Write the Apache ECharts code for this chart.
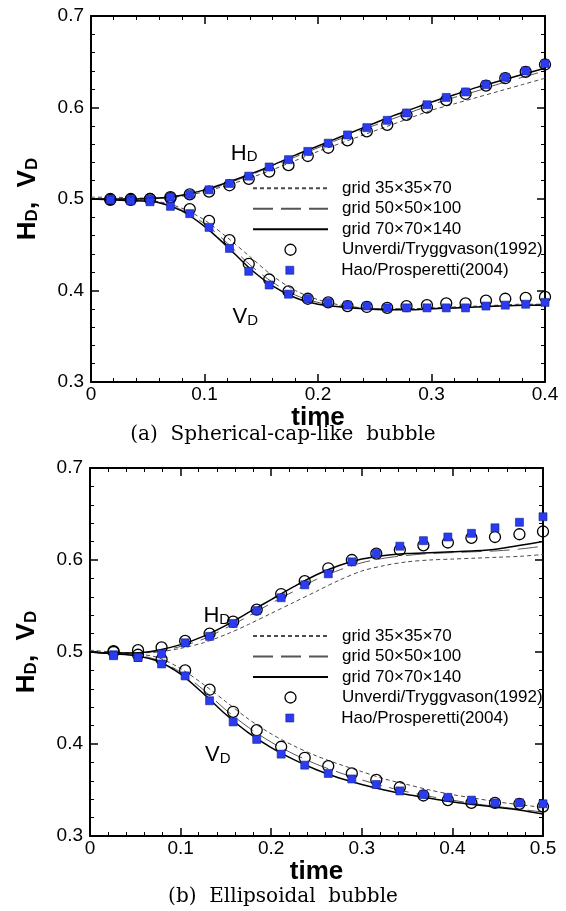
<!DOCTYPE html>
<html><head><meta charset="utf-8">
<script src="https://cdn.jsdelivr.net/npm/echarts@6/dist/echarts.min.js"></script>
<style>html,body{margin:0;padding:0;background:#fff}#c{width:566px;height:911px}</style>
</head><body><div id="c"></div>
<script>
// ---------- Panel (a): Spherical-cap-like bubble ----------
const markTimeA = [0.017,0.035,0.052,0.070,0.087,0.104,0.122,0.139,0.157,0.174,0.191,0.209,0.226,0.243,0.261,0.278,0.296,0.313,0.330,0.348,0.365,0.383,0.400];
const hUnverdiA = [0.500,0.500,0.500,0.502,0.505,0.508,0.515,0.522,0.530,0.537,0.547,0.556,0.564,0.574,0.581,0.592,0.600,0.608,0.615,0.624,0.632,0.639,0.647];
const hHaoA     = [0.500,0.500,0.500,0.502,0.505,0.510,0.517,0.525,0.535,0.543,0.552,0.561,0.570,0.578,0.586,0.594,0.603,0.611,0.617,0.625,0.633,0.640,0.648];
const vUnverdiA = [0.499,0.499,0.500,0.501,0.489,0.476,0.455,0.429,0.412,0.399,0.391,0.387,0.383,0.382,0.381,0.383,0.384,0.386,0.386,0.389,0.391,0.392,0.393];
const vHaoA     = [0.499,0.498,0.497,0.492,0.484,0.469,0.446,0.421,0.406,0.396,0.391,0.387,0.384,0.383,0.381,0.381,0.381,0.381,0.381,0.383,0.384,0.385,0.387];

const lineTimeA = [0,0.02,0.04,0.06,0.08,0.10,0.12,0.14,0.16,0.18,0.20,0.22,0.24,0.26,0.28,0.30,0.32,0.34,0.36,0.38,0.40];
const hCoarseA = [0.502,0.502,0.501,0.501,0.503,0.508,0.515,0.523,0.532,0.542,0.552,0.561,0.570,0.579,0.588,0.597,0.604,0.611,0.618,0.625,0.632];
const hMediumA = [0.500,0.500,0.500,0.501,0.504,0.509,0.517,0.526,0.536,0.546,0.556,0.566,0.576,0.585,0.594,0.603,0.611,0.618,0.626,0.633,0.640];
const hFineA   = [0.500,0.500,0.500,0.501,0.504,0.510,0.518,0.527,0.537,0.548,0.558,0.568,0.578,0.588,0.597,0.606,0.614,0.622,0.629,0.636,0.643];
const vCoarseA = [0.500,0.499,0.499,0.497,0.490,0.477,0.458,0.437,0.416,0.400,0.390,0.384,0.381,0.380,0.380,0.381,0.382,0.383,0.384,0.385,0.385];
const vMediumA = [0.500,0.499,0.498,0.496,0.488,0.473,0.452,0.428,0.409,0.395,0.387,0.383,0.381,0.380,0.380,0.380,0.381,0.382,0.383,0.384,0.385];
const vFineA   = [0.500,0.499,0.498,0.496,0.487,0.470,0.448,0.424,0.405,0.392,0.385,0.382,0.380,0.379,0.379,0.380,0.381,0.382,0.383,0.384,0.384];

// ---------- Panel (b): Ellipsoidal bubble ----------
const markTimeB = [0.026,0.053,0.079,0.105,0.132,0.158,0.184,0.211,0.237,0.263,0.289,0.316,0.342,0.368,0.395,0.421,0.447,0.474,0.500];
const hUnverdiB = [0.501,0.502,0.505,0.512,0.520,0.533,0.546,0.563,0.577,0.591,0.600,0.607,0.611,0.616,0.619,0.624,0.625,0.628,0.631];
const hHaoB     = [0.497,0.494,0.498,0.510,0.517,0.531,0.545,0.559,0.573,0.585,0.598,0.607,0.615,0.621,0.625,0.629,0.635,0.641,0.647];
const vUnverdiB = [0.500,0.497,0.492,0.480,0.459,0.435,0.415,0.397,0.385,0.376,0.368,0.361,0.353,0.344,0.339,0.336,0.336,0.335,0.332];
const vHaoB     = [0.496,0.494,0.487,0.474,0.447,0.424,0.405,0.389,0.377,0.368,0.362,0.356,0.349,0.345,0.342,0.339,0.336,0.336,0.335];

const lineTimeB = [0,0.025,0.05,0.075,0.10,0.125,0.15,0.175,0.20,0.225,0.25,0.275,0.30,0.325,0.35,0.375,0.40,0.425,0.45,0.475,0.50];
const hCoarseB = [0.502,0.500,0.499,0.500,0.504,0.510,0.519,0.530,0.542,0.554,0.566,0.578,0.588,0.594,0.598,0.600,0.601,0.602,0.603,0.604,0.606];
const hMediumB = [0.500,0.499,0.499,0.501,0.506,0.514,0.526,0.539,0.553,0.566,0.579,0.589,0.597,0.602,0.605,0.607,0.608,0.609,0.610,0.612,0.615];
const hFineB   = [0.500,0.499,0.499,0.502,0.508,0.517,0.529,0.543,0.557,0.571,0.584,0.594,0.601,0.605,0.607,0.608,0.609,0.610,0.612,0.616,0.620];
const vCoarseB = [0.500,0.499,0.498,0.494,0.482,0.465,0.446,0.427,0.411,0.398,0.387,0.378,0.370,0.362,0.356,0.350,0.345,0.341,0.337,0.334,0.331];
const vMediumB = [0.500,0.498,0.497,0.491,0.478,0.459,0.437,0.418,0.402,0.389,0.378,0.369,0.361,0.354,0.348,0.343,0.339,0.335,0.332,0.329,0.326];
const vFineB   = [0.500,0.498,0.496,0.490,0.476,0.455,0.432,0.412,0.396,0.383,0.372,0.363,0.356,0.350,0.345,0.341,0.337,0.334,0.331,0.328,0.324];

const xTickStep = 0.1;
const yRange = [0.3, 0.7];
const names = ['grid 35\u00d735\u00d770','grid 50\u00d750\u00d7100','grid 70\u00d770\u00d7140','Unverdi/Tryggvason(1992)','Hao/Prosperetti(2004)'];

// ---------- build option ----------
const FONT = 'Liberation Sans, Arial, Helvetica, sans-serif';
const pairs = (xs, ys) => xs.map((x, i) => [x, ys[i]]);
const lineStyles = [
  {color:'#4a4a4a', width:1, type:[4,3]},
  {color:'#555', width:1, type:[20,8]},
  {color:'#000', width:1.5, type:'solid'}
];
const circleStyle = {color:'rgba(255,255,255,0)', borderColor:'#000', borderWidth:1.3, opacity:1};
const squareStyle = {color:'#2a3cf2', borderColor:'#17208a', borderWidth:0.6, opacity:1};
function lineSeries(name, idx, xs, ys, styleIdx){
  return {type:'line', name, xAxisIndex:idx, yAxisIndex:idx, data:pairs(xs, ys),
    symbol:'none', showSymbol:false, smooth:0.3, lineStyle:lineStyles[styleIdx],
    itemStyle:{color:lineStyles[styleIdx].color}, z:2, silent:true, animation:false};
}
function circleSeries(idx, xs, ys){
  return {type:'scatter', name:names[3], xAxisIndex:idx, yAxisIndex:idx, data:pairs(xs, ys),
    symbol:'circle', symbolSize:11, clip:false, z:3, silent:true, animation:false, itemStyle:circleStyle};
}
function squareSeries(idx, xs, ys){
  return {type:'scatter', name:names[4], xAxisIndex:idx, yAxisIndex:idx, data:pairs(xs, ys),
    symbol:'rect', symbolSize:8, clip:false, z:4, silent:true, animation:false, itemStyle:squareStyle};
}
function annot(idx, pos, main){
  return {type:'scatter', name:'annot'+idx+main, xAxisIndex:idx, yAxisIndex:idx, data:[pos],
    symbolSize:0, z:5, silent:true, animation:false, itemStyle:{opacity:1},
    label:{show:true, position:'inside', color:'#000', textBorderWidth:0, formatter:'{m|'+main+'}{s|D}',
      rich:{m:{fontSize:22, lineHeight:22, padding:[0,0,7,0], verticalAlign:'top', fontFamily:FONT, color:'#000', textBorderWidth:0},
            s:{fontSize:15, lineHeight:15, verticalAlign:'bottom', fontFamily:FONT, color:'#000', textBorderWidth:0}}}};
}
function xAxes(idx, max){
  const base = {gridIndex:idx, type:'value', min:0, max:max, interval:xTickStep,
    axisLine:{onZero:false, lineStyle:{color:'#000', width:2}},
    axisTick:{inside:true, length:8, lineStyle:{color:'#000', width:1.5}},
    minorTick:{show:true, splitNumber:5, length:4, lineStyle:{color:'#000', width:1}},
    splitLine:{show:false}, minorSplitLine:{show:false}};
  return [
    Object.assign({}, base, {position:'bottom',
      axisLabel:{fontSize:19, color:'#000', margin:3, fontFamily:FONT},
      name:'time', nameLocation:'middle', nameGap:7,
      nameTextStyle:{fontSize:26, fontWeight:'bold', color:'#000', fontFamily:FONT, lineHeight:26}}),
    Object.assign({}, base, {position:'top', axisLabel:{show:false}})
  ];
}
function yAxes(idx){
  const base = {gridIndex:idx, type:'value', min:yRange[0], max:yRange[1], interval:0.1,
    axisLine:{onZero:false, lineStyle:{color:'#000', width:2}},
    axisTick:{inside:true, length:8, lineStyle:{color:'#000', width:1.5}},
    minorTick:{show:true, splitNumber:5, length:4, lineStyle:{color:'#000', width:1}},
    splitLine:{show:false}, minorSplitLine:{show:false}};
  return [
    Object.assign({}, base, {position:'left',
      axisLabel:{fontSize:19, color:'#000', margin:7, fontFamily:FONT},
      name:'{b|H}{s|D}{b|,  V}{s|D}', nameLocation:'middle', nameGap:50,
      nameTextStyle:{rich:{
        b:{fontSize:26, lineHeight:26, fontWeight:'bold', color:'#000', fontFamily:FONT},
        s:{fontSize:17, lineHeight:17, fontWeight:'bold', verticalAlign:'bottom', color:'#000', fontFamily:FONT}}}}),
    Object.assign({}, base, {position:'right', axisLabel:{show:false}})
  ];
}
function legends(top){
  const common = {orient:'vertical', itemGap:0, padding:0, selectedMode:false,
    textStyle:{fontSize:17, lineHeight:20.5, color:'#000', fontFamily:FONT, padding:[0,0,0,9]}};
  const hidden = {opacity:0, color:'rgba(0,0,0,0)', borderWidth:0};
  return [
    Object.assign({}, common, {top:top, left:252, itemWidth:75, itemHeight:11, data:[
      {name:names[0], itemStyle:hidden}, {name:names[1], itemStyle:hidden}, {name:names[2], itemStyle:hidden},
      {name:names[3], itemStyle:{color:'#fff', borderColor:'#000', borderWidth:1.3}}]}),
    Object.assign({}, common, {top:top+4*20.5, left:285.5, itemWidth:8, itemHeight:8,
      textStyle:Object.assign({}, common.textStyle, {padding:[0,0,0,42.5]}),
      data:[{name:names[4], itemStyle:squareStyle}]})
  ];
}

const xa = xAxes(0, 0.4), xb = xAxes(1, 0.5);
const option = {
  animation:false,
  backgroundColor:'#fff',
  grid:[
    {left:91, top:16, width:454, height:366},
    {left:90, top:468, width:453, height:368}
  ],
  xAxis:[xa[0], xb[0], xa[1], xb[1]],
  yAxis:[yAxes(0)[0], yAxes(1)[0], yAxes(0)[1], yAxes(1)[1]],
  legend:[...legends(178), ...legends(625.75)],
  series:[
    lineSeries(names[0],0,lineTimeA,hCoarseA,0), lineSeries(names[0],0,lineTimeA,vCoarseA,0),
    lineSeries(names[1],0,lineTimeA,hMediumA,1), lineSeries(names[1],0,lineTimeA,vMediumA,1),
    lineSeries(names[2],0,lineTimeA,hFineA,2),   lineSeries(names[2],0,lineTimeA,vFineA,2),
    circleSeries(0,markTimeA,hUnverdiA), circleSeries(0,markTimeA,vUnverdiA),
    squareSeries(0,markTimeA,hHaoA), squareSeries(0,markTimeA,vHaoA),
    lineSeries(names[0],1,lineTimeB,hCoarseB,0), lineSeries(names[0],1,lineTimeB,vCoarseB,0),
    lineSeries(names[1],1,lineTimeB,hMediumB,1), lineSeries(names[1],1,lineTimeB,vMediumB,1),
    lineSeries(names[2],1,lineTimeB,hFineB,2),   lineSeries(names[2],1,lineTimeB,vFineB,2),
    circleSeries(1,markTimeB,hUnverdiB), circleSeries(1,markTimeB,vUnverdiB),
    squareSeries(1,markTimeB,hHaoB), squareSeries(1,markTimeB,vHaoB),
    annot(0,[0.135,0.5495],'H'), annot(0,[0.136,0.371],'V'),
    annot(1,[0.140,0.539],'H'), annot(1,[0.141,0.388],'V')
  ],
  graphic:[
    {type:'text', left:'center', top:425, style:{text:'(a)  Spherical-cap-like  bubble', font:'20px "DejaVu Serif", serif', fill:'#000'}},
    {type:'text', left:'center', top:887, style:{text:'(b)  Ellipsoidal  bubble', font:'20px "DejaVu Serif", serif', fill:'#000'}}
  ]
};
const chart = echarts.init(document.getElementById('c'), null, {renderer:'canvas'});
chart.setOption(option);
</script></body></html>
